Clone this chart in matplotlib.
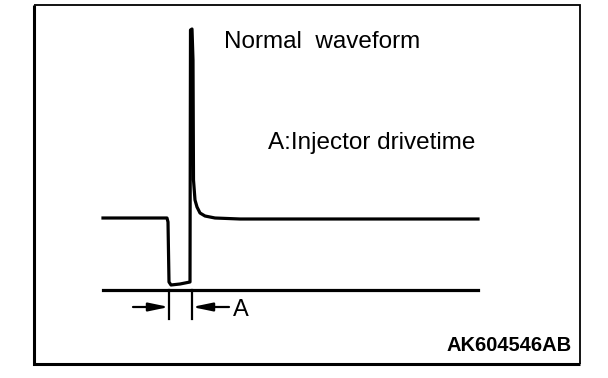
import matplotlib
matplotlib.use("Agg")
import matplotlib.pyplot as plt

# drawing units = picture pixels (x right, y down)

# normal injector waveform
wave_x = [103, 167, 168, 169, 171, 180, 190, 190.5, 192, 193, 193.5, 195, 197, 200, 205, 215, 240, 330, 440, 478]
wave_y = [218, 218, 222, 282, 285, 284, 282, 30, 29, 60, 180, 200, 207, 213, 216, 218, 219, 219, 219, 219]

# zero (ground) line
ground_x = [103, 478]
ground_y = [290, 290]

# drive time marks
mark_x = [169, 192]
mark_top = 290
mark_bottom = 319
arrow_y = 307

title_text = "Normal  waveform"
note_text = "A:Injector drivetime"
mark_text = "A"
code_text = "AK604546AB"

fig = plt.figure(figsize=(6.08, 3.78), dpi=100)
ax = fig.add_axes([0, 0, 1, 1])
ax.set_xlim(0, 608)
ax.set_ylim(378, 0)
ax.axis("off")

plt.rcParams["font.family"] = ["Liberation Sans", "DejaVu Sans"]

# frame: thick left/bottom, thin top/right
ax.plot([34, 34, 580], [4.5, 363.5, 363.5], color="black", lw=2.2, solid_capstyle="butt", solid_joinstyle="miter")
ax.plot([34, 580, 580], [4.5, 4.5, 363.5], color="black", lw=1.3, solid_capstyle="butt", solid_joinstyle="miter")

ax.plot(wave_x, wave_y, color="black", lw=2.3, solid_joinstyle="round")
ax.plot(ground_x, ground_y, color="black", lw=2.3)

for mx in mark_x:
    ax.plot([mx, mx], [mark_top, mark_bottom], color="black", lw=1.6)

# arrows pointing at the marks from outside
ax.annotate("", xy=(mark_x[0], arrow_y), xytext=(133, arrow_y),
            arrowprops=dict(arrowstyle="-|>,head_length=1.2,head_width=0.25", color="black", lw=1.6, shrinkA=0, shrinkB=0))
ax.annotate("", xy=(mark_x[1], arrow_y), xytext=(229, arrow_y),
            arrowprops=dict(arrowstyle="-|>,head_length=1.2,head_width=0.25", color="black", lw=1.6, shrinkA=0, shrinkB=0))

ax.text(224, 48, title_text, fontsize=17.5, ha="left", va="baseline")
ax.text(268, 149, note_text, fontsize=17.5, ha="left", va="baseline")
ax.text(233, 316, mark_text, fontsize=17, ha="left", va="baseline")
ax.text(572, 351, code_text, fontsize=14.5, fontweight="bold", ha="right", va="baseline")

fig.savefig("out.png", dpi=100)
